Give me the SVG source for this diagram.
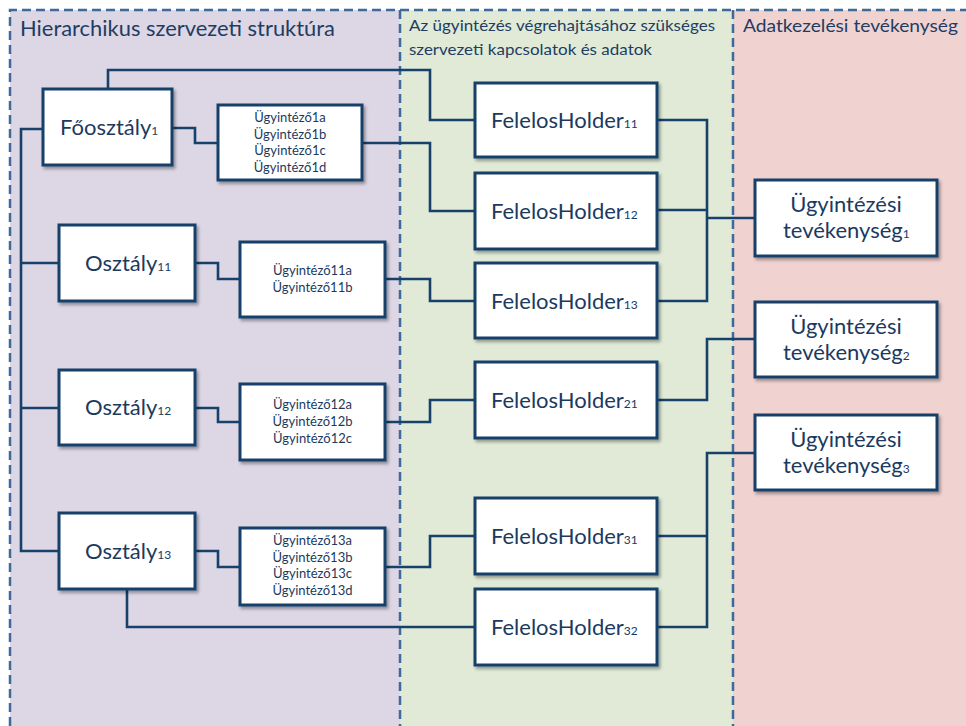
<svg xmlns="http://www.w3.org/2000/svg" width="966" height="726" viewBox="0 0 966 726">
<style>
.node{fill:#ffffff;stroke:#17406a;stroke-width:3;filter:url(#sh)}
.lbl{font-family:Lato,"Open Sans",sans-serif;fill:#1c3a5e}
.big{font-size:22px}
.sub{font-size:12px}
.small{font-size:13px;text-anchor:middle}
.title{font-family:Lato,"Open Sans",sans-serif;fill:#1f3d63}
.conn path{fill:none;stroke:#17406a;stroke-width:2.6;stroke-linejoin:miter}
.dash{fill:none;stroke:#3d6a98;stroke-width:2.5;stroke-dasharray:9 5}
</style>
<defs>
<filter id="sh" x="-10%" y="-10%" width="130%" height="130%">
<feDropShadow dx="2" dy="2.5" stdDeviation="1.5" flood-color="#000" flood-opacity="0.35"/>
</filter>
</defs>
<g id="panels">
<rect x="10" y="10" width="390" height="716" fill="#dcd6e5"/>
<rect x="400" y="10" width="333" height="716" fill="#e0ead6"/>
<rect x="733" y="10" width="233" height="716" fill="#f0d2d0"/>
<path class="dash" d="M10,726 V10 H966"/>
<path class="dash" d="M400,10 V726" stroke-width="1.5"/>
<path class="dash" d="M733,10 V726" stroke-width="1.8"/>
<text class="title" x="20" y="36" font-size="22" textLength="315" lengthAdjust="spacingAndGlyphs">Hierarchikus szervezeti struktúra</text>
<text class="title" x="409" y="31" font-size="16" textLength="306" lengthAdjust="spacingAndGlyphs">Az ügyintézés végrehajtásához szükséges</text>
<text class="title" x="409" y="55" font-size="16" textLength="243" lengthAdjust="spacingAndGlyphs">szervezeti kapcsolatok és adatok</text>
<text class="title" x="743" y="32" font-size="17" textLength="215" lengthAdjust="spacingAndGlyphs">Adatkezelési tevékenység</text>
</g>
<g class="conn" id="connectors">
<path d="M43,129 H21 V551 H59"/>
<path d="M21,263 H59"/>
<path d="M21,408 H59"/>
<path d="M172,128 H195 V143 H218"/>
<path d="M195,263 H218 V279 H240"/>
<path d="M195,408 H218 V422 H240"/>
<path d="M195,551 H218 V567 H240"/>
<path d="M108,89 V70 H430 V120 H475"/>
<path d="M362,143 H430 V211 H475"/>
<path d="M385,279 H430 V301 H475"/>
<path d="M385,422 H430 V400 H475"/>
<path d="M385,567 H430 V536 H475"/>
<path d="M127,589 V627 H475"/>
<path d="M657,120 H707 V301 H657"/>
<path d="M657,210 H707"/>
<path d="M707,218 H755" stroke-width="3.4"/>
<path d="M657,400 H707 V339 H755"/>
<path d="M657,536 H707"/>
<path d="M657,627 H707 V453 H755"/>
</g>
<g id="foosztaly1">
<rect class="node" x="43" y="89" width="129" height="76"/>
<text class="lbl big" x="60" y="135">Főosztály<tspan class="sub">1</tspan></text>
</g>
<g id="ugyintezo1">
<rect class="node" x="218" y="105" width="144" height="75"/>
<text class="lbl small" x="290" y="122">Ügyintéző1a</text>
<text class="lbl small" x="290" y="138.5">Ügyintéző1b</text>
<text class="lbl small" x="290" y="155">Ügyintéző1c</text>
<text class="lbl small" x="290" y="171.5">Ügyintéző1d</text>
</g>
<g id="osztaly11">
<rect class="node" x="59" y="225" width="136" height="76"/>
<text class="lbl big" x="85" y="271">Osztály<tspan class="sub">11</tspan></text>
</g>
<g id="ugyintezo11">
<rect class="node" x="240" y="242" width="145" height="75"/>
<text class="lbl small" x="312.5" y="275">Ügyintéző11a</text>
<text class="lbl small" x="312.5" y="292">Ügyintéző11b</text>
</g>
<g id="osztaly12">
<rect class="node" x="59" y="370" width="136" height="75"/>
<text class="lbl big" x="85" y="415">Osztály<tspan class="sub">12</tspan></text>
</g>
<g id="ugyintezo12">
<rect class="node" x="240" y="384" width="145" height="76"/>
<text class="lbl small" x="312.5" y="409">Ügyintéző12a</text>
<text class="lbl small" x="312.5" y="426">Ügyintéző12b</text>
<text class="lbl small" x="312.5" y="443">Ügyintéző12c</text>
</g>
<g id="osztaly13">
<rect class="node" x="59" y="513" width="136" height="76"/>
<text class="lbl big" x="85" y="559">Osztály<tspan class="sub">13</tspan></text>
</g>
<g id="ugyintezo13">
<rect class="node" x="240" y="528" width="145" height="77"/>
<text class="lbl small" x="312.5" y="545">Ügyintéző13a</text>
<text class="lbl small" x="312.5" y="561.5">Ügyintéző13b</text>
<text class="lbl small" x="312.5" y="578">Ügyintéző13c</text>
<text class="lbl small" x="312.5" y="594.5">Ügyintéző13d</text>
</g>
<g id="fh11">
<rect class="node" x="475" y="83" width="182" height="74"/>
<text class="lbl big" x="491" y="128">FelelosHolder<tspan class="sub">11</tspan></text>
</g>
<g id="fh12">
<rect class="node" x="475" y="173" width="182" height="76"/>
<text class="lbl big" x="491" y="219">FelelosHolder<tspan class="sub">12</tspan></text>
</g>
<g id="fh13">
<rect class="node" x="475" y="263" width="182" height="75"/>
<text class="lbl big" x="491" y="309">FelelosHolder<tspan class="sub">13</tspan></text>
</g>
<g id="fh21">
<rect class="node" x="475" y="362" width="182" height="76"/>
<text class="lbl big" x="491" y="408">FelelosHolder<tspan class="sub">21</tspan></text>
</g>
<g id="fh31">
<rect class="node" x="475" y="498" width="182" height="76"/>
<text class="lbl big" x="491" y="544">FelelosHolder<tspan class="sub">31</tspan></text>
</g>
<g id="fh32">
<rect class="node" x="475" y="589" width="182" height="76"/>
<text class="lbl big" x="491" y="635">FelelosHolder<tspan class="sub">32</tspan></text>
</g>
<g id="ut1">
<rect class="node" x="755" y="180" width="182" height="76"/>
<text class="lbl big" x="846" y="212" text-anchor="middle">Ügyintézési</text>
<text class="lbl big" x="783" y="238">tevékenység<tspan class="sub">1</tspan></text>
</g>
<g id="ut2">
<rect class="node" x="755" y="302" width="182" height="75"/>
<text class="lbl big" x="846" y="334" text-anchor="middle">Ügyintézési</text>
<text class="lbl big" x="783" y="360">tevékenység<tspan class="sub">2</tspan></text>
</g>
<g id="ut3">
<rect class="node" x="755" y="415" width="182" height="75"/>
<text class="lbl big" x="846" y="447" text-anchor="middle">Ügyintézési</text>
<text class="lbl big" x="783" y="473">tevékenység<tspan class="sub">3</tspan></text>
</g>
</svg>
